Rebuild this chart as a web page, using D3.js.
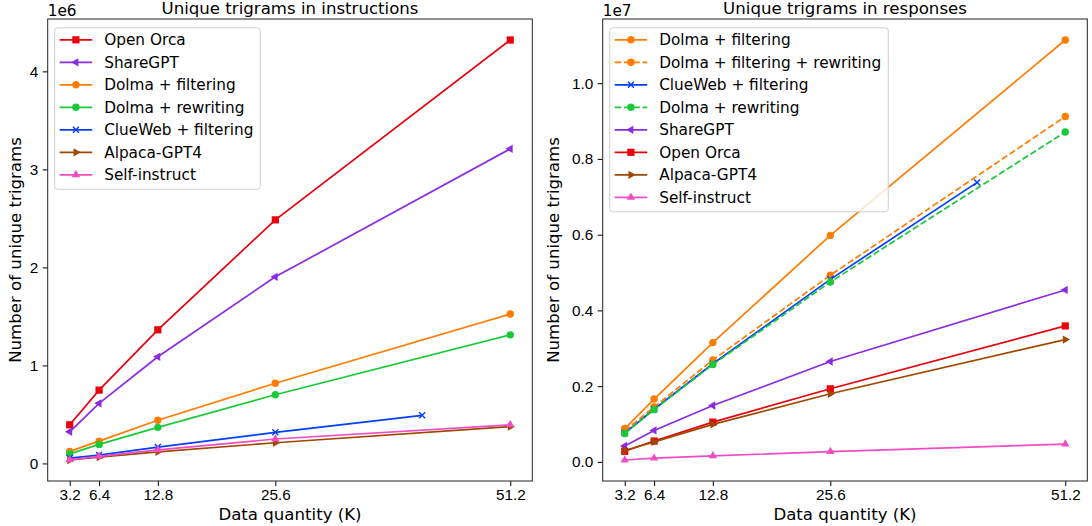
<!DOCTYPE html>
<html>
<head>
<meta charset="utf-8">
<script src="https://cdn.jsdelivr.net/npm/d3@7"></script>
<style>
  body { margin: 0; background: #fff; }
  svg { font-family: "DejaVu Sans", sans-serif; }
</style>
</head>
<body>
<svg id="chart" width="1092" height="526"></svg>
<script>
// x values (K examples)
const quantities = [3.2, 6.4, 12.8, 25.6, 51.2];
const quantitiesClueWeb = [3.2, 6.4, 12.8, 25.6, 41.6];
const xTickValues = [3.2, 6.4, 12.8, 25.6, 51.2];

// unique trigrams in instructions (x 1e6)
const instOpenOrca = [0.394, 0.748, 1.363, 2.485, 4.32];
const instShareGPT = [0.323, 0.613, 1.088, 1.904, 3.21];
const instDolmaFilter = [0.123, 0.228, 0.44, 0.818, 1.524];
const instDolmaRewrite = [0.098, 0.194, 0.368, 0.701, 1.312];
const instClueWeb = [0.055, 0.085, 0.167, 0.317, 0.491];
const instAlpaca = [0.035, 0.064, 0.118, 0.211, 0.375];
const instSelfInstruct = [0.037, 0.072, 0.139, 0.249, 0.393];
const instTicks = [0, 1, 2, 3, 4];

// unique trigrams in responses (x 1e7)
const respDolmaFilter = [0.088, 0.166, 0.315, 0.598, 1.114];
const respDolmaFilterRewrite = [0.082, 0.145, 0.269, 0.493, 0.912];
const respClueWeb = [0.076, 0.139, 0.259, 0.482, 0.738];
const respDolmaRewrite = [0.075, 0.138, 0.257, 0.475, 0.871];
const respShareGPT = [0.042, 0.083, 0.149, 0.265, 0.454];
const respOpenOrca = [0.028, 0.055, 0.105, 0.193, 0.359];
const respAlpaca = [0.030, 0.053, 0.099, 0.180, 0.323];
const respSelfInstruct = [0.005, 0.0097, 0.016, 0.027, 0.047];
const respTicks = [0, 0.2, 0.4, 0.6, 0.8, 1.0];

const colors = {
    red: "#e8000b", purple: "#8b2be2", orange: "#ff7c00", green: "#1ac938",
    blue: "#023eff", brown: "#9f4800", pink: "#f14cc1"
};

const instSeries = [
    { name: "Open Orca", x: quantities, y: instOpenOrca, color: colors.red, marker: "s" },
    { name: "ShareGPT", x: quantities, y: instShareGPT, color: colors.purple, marker: "<" },
    { name: "Dolma + filtering", x: quantities, y: instDolmaFilter, color: colors.orange, marker: "o" },
    { name: "Dolma + rewriting", x: quantities, y: instDolmaRewrite, color: colors.green, marker: "o" },
    { name: "ClueWeb + filtering", x: quantitiesClueWeb, y: instClueWeb, color: colors.blue, marker: "x" },
    { name: "Alpaca-GPT4", x: quantities, y: instAlpaca, color: colors.brown, marker: ">" },
    { name: "Self-instruct", x: quantities, y: instSelfInstruct, color: colors.pink, marker: "^" }
];

const respSeries = [
    { name: "Dolma + filtering", x: quantities, y: respDolmaFilter, color: colors.orange, marker: "o" },
    { name: "Dolma + filtering + rewriting", x: quantities, y: respDolmaFilterRewrite, color: colors.orange, marker: "o", dashed: true },
    { name: "ClueWeb + filtering", x: quantitiesClueWeb, y: respClueWeb, color: colors.blue, marker: "x" },
    { name: "Dolma + rewriting", x: quantities, y: respDolmaRewrite, color: colors.green, marker: "o", dashed: true },
    { name: "ShareGPT", x: quantities, y: respShareGPT, color: colors.purple, marker: "<" },
    { name: "Open Orca", x: quantities, y: respOpenOrca, color: colors.red, marker: "s" },
    { name: "Alpaca-GPT4", x: quantities, y: respAlpaca, color: colors.brown, marker: ">" },
    { name: "Self-instruct", x: quantities, y: respSelfInstruct, color: colors.pink, marker: "^" }
];

const svg = d3.select("#chart");
const tickFont = "15.3px";
const labelFont = "16.6px";

// draws one marker at (0,0) inside group g
function drawMarker(g, type, color) {
    if (type === "s") {
        g.append("rect").attr("x", -3.6).attr("y", -3.6).attr("width", 7.2).attr("height", 7.2).attr("fill", color);
    } else if (type === "o") {
        g.append("circle").attr("r", 3.7).attr("fill", color);
    } else if (type === "x") {
        g.append("path").attr("d", "M-3,-3L3,3M-3,3L3,-3").attr("stroke", color).attr("stroke-width", 1.4).attr("fill", "none");
    } else {
        const rot = type === "<" ? -90 : type === ">" ? 90 : 0;
        g.append("path").attr("d", d3.symbol().type(d3.symbolTriangle).size(30)())
            .attr("transform", `rotate(${rot})`).attr("fill", color);
    }
}

function makePanel(opts) {
    const { left, right, top, bottom, series, yTicks, yFormat, title, offsetText } = opts;
    const allY = series.flatMap(s => s.y);
    const yMin = d3.min(allY), yMax = d3.max(allY);
    const yPad = (yMax - yMin) * 0.05;
    const xPad = (d3.max(quantities) - d3.min(quantities)) * 0.05;

    const x = d3.scaleLinear().domain([d3.min(quantities) - xPad, d3.max(quantities) + xPad]).range([left, right]);
    const y = d3.scaleLinear().domain([yMin - yPad, yMax + yPad]).range([bottom, top]);

    const g = svg.append("g");

    // lines + markers
    const line = d3.line().x(d => x(d[0])).y(d => y(d[1]));
    series.forEach(s => {
        const pts = s.x.map((v, i) => [v, s.y[i]]);
        g.append("path").attr("d", line(pts)).attr("fill", "none").attr("stroke", s.color)
            .attr("stroke-width", 1.7).attr("stroke-dasharray", s.dashed ? "6.5,2.8" : null);
        pts.forEach(p => {
            const m = g.append("g").attr("transform", `translate(${x(p[0])},${y(p[1])})`);
            drawMarker(m, s.marker, s.color);
        });
    });

    // axes
    const xAxis = d3.axisBottom(x).tickValues(xTickValues).tickFormat(d3.format(".1f")).tickSize(5).tickPadding(3);
    const yAxis = d3.axisLeft(y).tickValues(yTicks).tickFormat(yFormat).tickSize(5).tickPadding(4.4);
    const gx = g.append("g").attr("transform", `translate(0,${bottom})`).call(xAxis);
    const gy = g.append("g").attr("transform", `translate(${left},0)`).call(yAxis);
    [gx, gy].forEach(a => {
        a.select(".domain").remove();
        a.selectAll("text").style("font-size", tickFont).attr("fill", "#000");
        a.selectAll("line").attr("stroke", "#000").attr("stroke-width", 1);
    });

    g.append("rect").attr("x", left).attr("y", top).attr("width", right - left).attr("height", bottom - top)
        .attr("fill", "none").attr("stroke", "#222").attr("stroke-width", 1);

    // titles and labels
    g.append("text").attr("x", (left + right) / 2).attr("y", 14).attr("text-anchor", "middle")
        .style("font-size", labelFont).text(title);
    g.append("text").attr("x", left).attr("y", 15.5).style("font-size", tickFont).text(offsetText);
    g.append("text").attr("x", (left + right) / 2).attr("y", 519.5).attr("text-anchor", "middle")
        .style("font-size", labelFont).text("Data quantity (K)");
    g.append("text").attr("transform", `translate(${opts.yLabelX},${(top + bottom) / 2}) rotate(-90)`)
        .attr("text-anchor", "middle").style("font-size", labelFont).text("Number of unique trigrams");

    // legend
    const lx = left + 7, ly = 39.8, rowH = 22.5;
    const legend = g.append("g");
    const box = legend.append("rect").attr("x", lx).attr("y", ly - 12).attr("rx", 3).attr("ry", 3)
        .attr("height", (series.length - 1) * rowH + 26.5)
        .attr("fill", "#fff").attr("fill-opacity", 0.8).attr("stroke", "#d0d0d0").attr("stroke-width", 1);
    let maxW = 0;
    series.forEach((s, i) => {
        const cy = ly + i * rowH;
        legend.append("line").attr("x1", lx + 5).attr("x2", lx + 37.5).attr("y1", cy).attr("y2", cy)
            .attr("stroke", s.color).attr("stroke-width", 1.7).attr("stroke-dasharray", s.dashed ? "6.5,2.8" : null);
        drawMarker(legend.append("g").attr("transform", `translate(${lx + 21.2},${cy})`), s.marker, s.color);
        const t = legend.append("text").attr("x", lx + 49.5).attr("y", cy).attr("dy", "0.36em")
            .style("font-size", tickFont).text(s.name);
        maxW = Math.max(maxW, t.node().getComputedTextLength());
    });
    box.attr("width", 49.5 + maxW + 7);
}

makePanel({
    left: 47.7, right: 532.3, top: 19, bottom: 481, yLabelX: 20.5,
    series: instSeries, yTicks: instTicks, yFormat: d3.format("d"),
    title: "Unique trigrams in instructions", offsetText: "1e6"
});

makePanel({
    left: 602.7, right: 1087.3, top: 19, bottom: 481, yLabelX: 559,
    series: respSeries, yTicks: respTicks, yFormat: d3.format(".1f"),
    title: "Unique trigrams in responses", offsetText: "1e7"
});
</script>
</body>
</html>
